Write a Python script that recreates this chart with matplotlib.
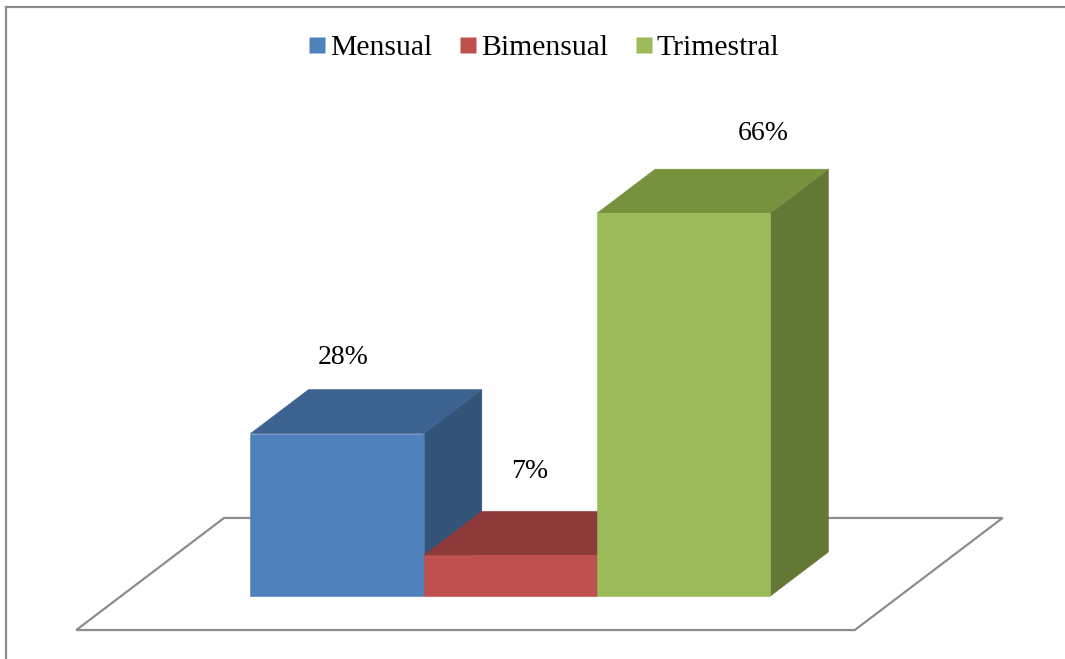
import matplotlib
matplotlib.use("Agg")
import matplotlib.pyplot as plt
from matplotlib.patches import Polygon
from matplotlib.lines import Line2D

# Data
categories = ["Mensual", "Bimensual", "Trimestral"]
values = [28, 7, 66]
value_labels = ["28%", "7%", "66%"]

# Styling
front_colors = ["#4F81BD", "#C0504D", "#9BBB59"]
top_colors = ["#3C6390", "#8E3A39", "#76923C"]
side_colors = ["#335479", "#7A302F", "#647836"]
label_nudge_x = [0.035, 0.11, 0.46]
label_nudge_y = [4.4, 5.7, 5.0]
serif = ["Liberation Serif", "DejaVu Serif"]

W, H = 1065, 659
fig = plt.figure(figsize=(W / 100, H / 100), dpi=100)
ax = fig.add_axes([0, 0, 1, 1])
ax.set_xlim(-1.945, 4.20)
ax.set_ylim(-10.86, 102.76)
ax.axis("off")

bar_w = 1.0
dx, dy = 0.335, 7.59          # oblique depth offset of a bar
floor_front, floor_back = -0.773, 1.773   # floor depth in bar-depth units
floor_left = -0.5 - 0.746
floor_right = len(values) - 0.5 + 0.746


def shift(x, y, t):
    return (x + dx * t, y + dy * t)


# Floor
floor = Polygon([
    shift(floor_left, 0, floor_front),
    shift(floor_right, 0, floor_front),
    shift(floor_right, 0, floor_back),
    shift(floor_left, 0, floor_back),
], closed=True, facecolor="white", edgecolor="#8C8C8C", linewidth=1.6, zorder=1)
ax.add_patch(floor)

# Bars, drawn left to right so nearer faces paint over farther ones
for i, v in enumerate(values):
    x0, x1 = i - bar_w / 2, i + bar_w / 2
    faces = [
        ([(x1, 0), shift(x1, 0, 1), shift(x1, v, 1), (x1, v)], side_colors[i]),
        ([(x0, v), (x1, v), shift(x1, v, 1), shift(x0, v, 1)], top_colors[i]),
        ([(x0, 0), (x1, 0), (x1, v), (x0, v)], front_colors[i]),
    ]
    for pts, c in faces:
        ax.add_patch(Polygon(pts, closed=True, facecolor=c, edgecolor=c,
                             linewidth=0.4, zorder=2))
    ax.text(i + label_nudge_x[i], v + dy + label_nudge_y[i], value_labels[i],
            ha="center", va="baseline", fontsize=20, family=serif, color="black",
            zorder=3)

# Legend
handles = [Line2D([], [], linestyle="none", marker="s", markersize=11.3,
                  markerfacecolor=c, markeredgecolor="none") for c in front_colors]
fig.legend(handles, categories, loc="center", bbox_to_anchor=(0.511, 1 - 48 / H),
           ncol=3, frameon=False, handlelength=0.55, handletextpad=0.15,
           columnspacing=0.95, prop={"family": serif, "size": 21.3})

# Chart frame (top and left edges)
fig.add_artist(Line2D([5.5 / W, 1], [1 - 6.5 / H, 1 - 6.5 / H],
                      transform=fig.transFigure, color="#8C8C8C", linewidth=1.6))
fig.add_artist(Line2D([5.5 / W, 5.5 / W], [0, 1 - 6.5 / H],
                      transform=fig.transFigure, color="#8C8C8C", linewidth=1.6))

fig.savefig("out.png", dpi=100, facecolor="white")
